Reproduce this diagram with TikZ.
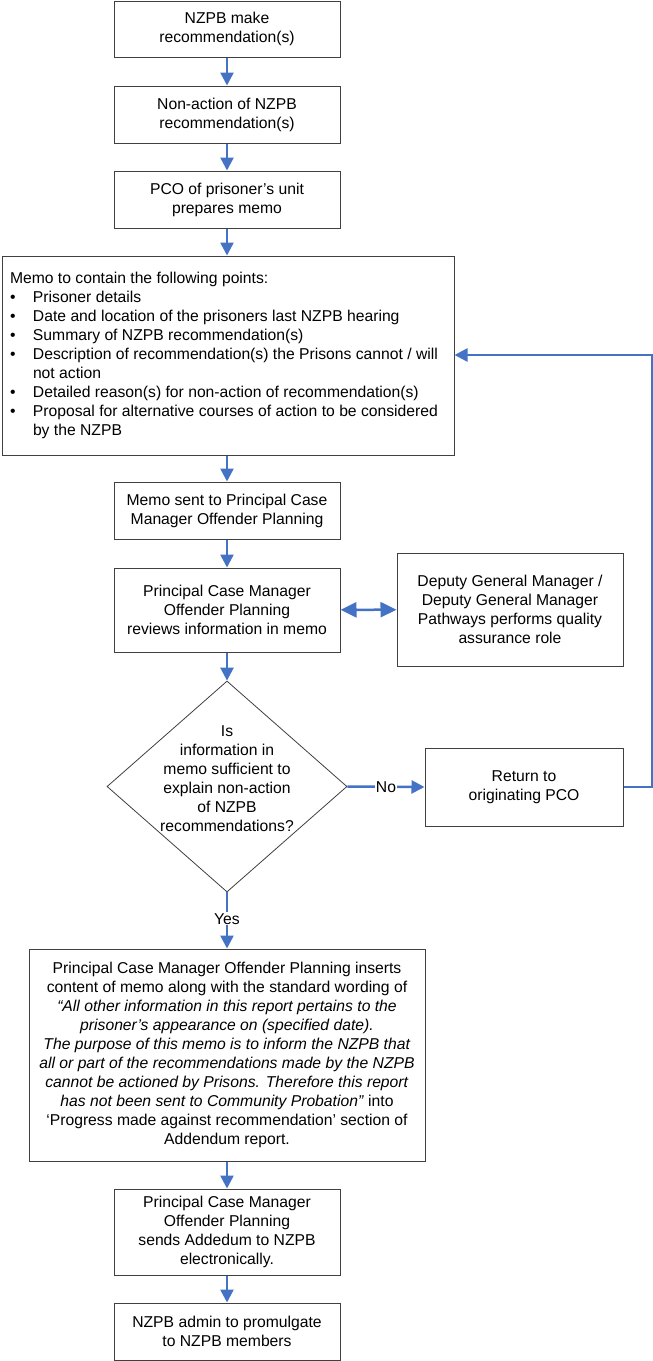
\documentclass[tikz,border=0pt]{standalone}
\usepackage{fontspec}
\setmainfont{Liberation Sans}
\usetikzlibrary{arrows.meta,shapes.geometric}
\definecolor{flow}{HTML}{4472C4}
\definecolor{edgegray}{HTML}{404040}
\newcommand\bl{\makebox[23pt][l]{\textbullet}}
\begin{document}
\begin{tikzpicture}[x=1pt,y=-1pt,
  font=\fontsize{15.7}{19}\selectfont,
  box/.style={draw=edgegray, line width=1pt, fill=white, align=center, inner sep=0pt},
  flowline/.style={draw=flow, line width=2.5pt, -{Triangle[length=13pt,width=13pt]}},
  dflowline/.style={draw=flow, line width=2.5pt, {Triangle[length=16pt,width=15pt]}-{Triangle[length=16pt,width=15pt]}},
  lbl/.style={fill=white, inner sep=1pt, text=black},
]
\fill[white] (0,0) rectangle (653,1361);
\useasboundingbox (0,0) rectangle (653,1361);

\node[box, minimum width=226pt, minimum height=56pt] (b1) at (227,29) {NZPB make\\recommendation(s)};
\node[box, minimum width=226pt, minimum height=57pt] (b2) at (227,114.5) {Non-action of NZPB\\recommendation(s)};
\node[box, minimum width=226pt, minimum height=57pt] (b3) at (227,199.5) {PCO of prisoner’s unit\\prepares memo};
\node[box, minimum width=452pt, minimum height=199pt] (memo) at (228,355.5)
  {\makebox[436pt][l]{\begin{tabular}{@{}l@{}}Memo to contain the following points:\\
   \bl Prisoner details\\
   \bl Date and location of the prisoners last NZPB hearing\\
   \bl Summary of NZPB recommendation(s)\\
   \bl Description of recommendation(s) the Prisons cannot / will\\
   \hspace*{23pt}not action\\
   \bl Detailed reason(s) for non-action of recommendation(s)\\
   \bl Proposal for alternative courses of action to be considered\\
   \hspace*{23pt}by the NZPB\end{tabular}}};
\node[box, minimum width=226pt, minimum height=57pt] (b5) at (227,510.5) {Memo sent to Principal Case\\Manager Offender Planning};
\node[box, minimum width=226pt, minimum height=84pt] (b6) at (227,610) {Principal Case Manager\\Offender Planning\\reviews information in memo};
\node[box, minimum width=226pt, minimum height=113pt] (dep) at (510,609.5) {Deputy General Manager /\\Deputy General Manager\\Pathways performs quality\\assurance role};
\node[draw=edgegray, line width=0.8pt, diamond, minimum width=240pt, minimum height=211pt, inner sep=0pt] (dec) at (227,786.5)
  {\makebox[0pt][c]{\raisebox{3pt}[0pt][0pt]{\begin{tabular}{@{}c@{}}Is\\information in\\memo sufficient to\\explain non-action\\of NZPB\\recommendations?\end{tabular}}}};
\node[box, minimum width=198pt, minimum height=78pt] (ret) at (524,787) {Return to\\originating PCO};
\node[box, minimum width=396pt, minimum height=212pt] (big) at (227,1055)
  {Principal Case Manager Offender Planning inserts\\
   content of memo along with the standard wording of\\
   \textit{“All other information in this report pertains to the}\\
   \textit{prisoner’s appearance on (specified date).}\\
   \textit{The purpose of this memo is to inform the NZPB that}\\
   \textit{all or part of the recommendations made by the NZPB}\\
   \textit{cannot be actioned by Prisons. Therefore this report}\\
   \textit{has not been sent to Community Probation”} into\\
   ‘Progress made against recommendation’ section of\\
   Addendum report.};
\node[box, minimum width=226pt, minimum height=86pt] (b8) at (227,1232) {Principal Case Manager\\Offender Planning\\sends Addedum to NZPB\\electronically.};
\node[box, minimum width=226pt, minimum height=57pt] (b9) at (227,1331.5) {NZPB admin to promulgate\\to NZPB members};

\coordinate (fb) at (652,355);

\draw[flowline] (b1) -- (b2);
\draw[flowline] (b2) -- (b3);
\draw[flowline] (b3.south) -- (b3.south|-memo.north);
\draw[flowline] (b5.north|-memo.south) -- (b5.north);
\draw[flowline] (b5) -- (b6);
\draw[dflowline] (b6) -- (dep);
\draw[flowline] (b6.south) -- (dec.north);
\draw[flowline] (dec.east) -- node[lbl] {No} (ret.west);
\draw[flowline] (dec.south) -- node[lbl, pos=0.47] {Yes} (big.north);
\draw[flowline] (ret.east) -| (fb) -- (memo.east|-fb);
\draw[flowline] (big.south) -- (b8.north);
\draw[flowline] (b8) -- (b9);
\end{tikzpicture}
\end{document}
